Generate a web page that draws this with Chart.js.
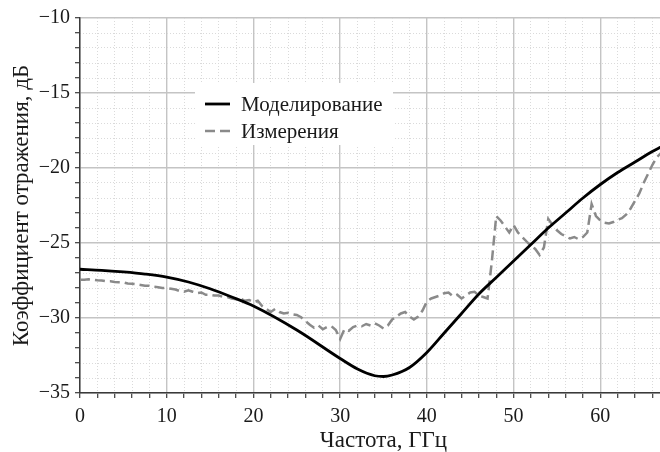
<!DOCTYPE html>
<html>
<head>
<meta charset="utf-8">
<script src="https://cdn.jsdelivr.net/npm/chart.js@4.4.1/dist/chart.umd.min.js"></script>
<style>
  html, body { margin: 0; padding: 0; background: #fff; overflow: hidden; width: 660px; height: 452px; }
  /* plot runs on to 70 GHz, the picture is cut at ~67 GHz */
  #wrap { position: relative; width: 694px; height: 452px; }
</style>
</head>
<body>
<div id="wrap"><canvas id="chart"></canvas></div>
<script>
/* ── data ── */
var simFreq = [0, 2.5, 5, 7.5, 10, 12.5, 15, 17.5, 20, 25, 30, 32, 34, 35, 36, 38, 40, 42, 44, 46, 48, 50, 52, 54, 56, 58, 60, 62, 64, 66, 67];
var simDb   = [-26.75, -26.82, -26.93, -27.07, -27.27, -27.6, -28.05, -28.6, -29.2, -30.8, -32.7, -33.4, -33.85, -33.9, -33.8, -33.3, -32.3,
               -31.0, -29.7, -28.4, -27.3, -26.2, -25.1, -24.0, -23.0, -22.0, -21.1, -20.3, -19.6, -18.9, -18.6];

var measFreq = [0, 0.5, 1, 1.5, 2, 2.5, 3, 3.5, 4, 4.5, 5, 5.5, 6, 6.5, 7, 7.5, 8, 8.5, 9, 9.5,
                10, 10.5, 11, 11.5, 12, 12.5, 13, 13.5, 14, 14.5, 15, 15.5, 16, 16.5, 17, 17.5, 18, 18.5, 19, 19.5,
                20, 20.5, 21, 21.5, 22, 22.5, 23, 23.5, 24, 24.5, 25, 25.5, 26, 26.5, 27, 27.5, 28, 28.5, 29, 29.5,
                30, 30.5, 31, 31.5, 32, 32.5, 33, 33.5, 34, 34.5, 35, 35.5, 36, 36.5, 37, 37.5, 38, 38.5, 39, 39.5,
                40, 40.5, 41, 41.5, 42, 42.5, 43, 43.5, 44, 44.5, 45, 45.5, 46, 46.5, 47, 47.5, 48, 48.5, 49, 49.5,
                50, 50.5, 51, 51.5, 52, 52.5, 53, 53.5, 54, 54.5, 55, 55.5, 56, 56.5, 57, 57.5, 58, 58.5, 59, 59.5,
                60, 60.5, 61, 61.5, 62, 62.5, 63, 63.5, 64, 64.5, 65, 65.5, 66, 66.5, 67];
var measDb = [-27.45, -27.45, -27.42, -27.45, -27.48, -27.5, -27.55, -27.55, -27.6, -27.62, -27.62, -27.7, -27.72, -27.75, -27.8, -27.85, -27.85, -27.9, -27.95, -28.0,
              -28.0, -28.05, -28.1, -28.2, -28.25, -28.15, -28.25, -28.35, -28.3, -28.45, -28.45, -28.5, -28.5, -28.6, -28.6, -28.7, -28.75, -28.7, -28.85, -28.8,
              -28.95, -28.85, -29.2, -29.4, -29.6, -29.4, -29.6, -29.7, -29.65, -29.75, -29.8, -29.95, -30.2, -30.45, -30.65, -30.5, -30.75, -30.6, -30.55, -30.8,
              -31.4, -30.75, -30.85, -30.6, -30.5, -30.55, -30.4, -30.5, -30.35, -30.5, -30.7, -30.5, -30.1, -29.9, -29.7, -29.6, -29.9, -30.1, -29.9, -29.5,
              -28.9, -28.7, -28.6, -28.5, -28.35, -28.3, -28.55, -28.45, -28.7, -28.5, -28.3, -28.25, -28.5, -28.6, -28.7, -26.2, -23.2, -23.5, -23.9, -24.3,
              -23.8, -24.3, -24.6, -24.9, -25.2, -25.4, -25.8, -25.3, -23.4, -23.8, -24.15, -24.4, -24.55, -24.7, -24.6, -24.75, -24.6, -24.3, -22.4, -23.2,
              -23.5, -23.65, -23.7, -23.6, -23.45, -23.35, -23.1, -22.7, -22.2, -21.7, -21.0, -20.4, -19.8, -19.3, -19.0];

var seriesNames = ["Моделирование", "Измерения"];
var xTitle = "Частота, ГГц";
var yTitle = "Коэффициент отражения, дБ";

var SERIF = "'Liberation Serif','Times New Roman',serif";
var majorGrid = "#c4c4c4";
var minorGrid = "#dadada";
var axisCol = "#3a3a3a";

function pts(xs, ys) {
  return xs.map(function(x, i) { return { x: x, y: ys[i] }; });
}
function fmtMinus(v) {
  return v < 0 ? "\u2212" + Math.abs(v) : String(v);
}

/* legend drawn inside the plot, on a white box */
var boxLegend = {
  id: "boxLegend",
  afterDraw: function(chart) {
    var a = chart.chartArea, c = chart.ctx;
    var x0 = a.left + 115, y0 = a.top + 65;
    c.save();
    c.fillStyle = "#fff";
    c.fillRect(x0, y0, 198, 62);
    var ds = chart.data.datasets;
    [0, 1].forEach(function(i) {
      var y = y0 + 21 + i * 27;
      c.beginPath();
      c.strokeStyle = ds[i].borderColor;
      c.lineWidth = ds[i].borderWidth;
      c.setLineDash(i === 1 ? [10, 5] : []);
      c.moveTo(x0 + 10, y);
      c.lineTo(x0 + 35, y);
      c.stroke();
      c.setLineDash([]);
      c.fillStyle = "#1a1a1a";
      c.font = "21px " + SERIF;
      c.textBaseline = "middle";
      c.fillText(ds[i].label, x0 + 46, y + 1);
    });
    c.restore();
  }
};

new Chart(document.getElementById("chart"), {
  type: "line",
  data: {
    datasets: [
      { label: seriesNames[0], data: pts(simFreq, simDb), borderColor: "#000", borderWidth: 2.8,
        pointRadius: 0, tension: 0.4, cubicInterpolationMode: "monotone", xAxisID: "x", yAxisID: "y" },
      { label: seriesNames[1], data: pts(measFreq, measDb), borderColor: "#8a8a8a", borderWidth: 2.5,
        borderDash: [10, 5], pointRadius: 0, tension: 0, xAxisID: "x", yAxisID: "y" }
    ]
  },
  options: {
    responsive: true, maintainAspectRatio: false, animation: false,
    layout: { padding: { top: 18, right: 0, bottom: 0, left: 0 } },
    plugins: { legend: { display: false }, tooltip: { enabled: false } },
    scales: {
      x: {
        type: "linear", position: "bottom", min: 0, max: 70,
        afterFit: function(s) { s.height = 59; },
        ticks: {
          stepSize: 2, autoSkip: false, maxRotation: 0, includeBounds: false, padding: 7,
          color: "#1a1a1a", font: { family: SERIF, size: 20 },
          callback: function(v) { return (v % 10 === 0 && v < 70) ? fmtMinus(v) : ""; }
        },
        grid: {
          color: function(c) { return c.tick && c.tick.value % 10 === 0 ? majorGrid : "rgba(0,0,0,0)"; },
          lineWidth: 1.4, tickColor: axisCol, tickLength: 5, tickWidth: 1.2
        },
        border: { color: axisCol, width: 1.5 },
        title: { display: true, text: xTitle, color: "#1a1a1a", font: { family: SERIF, size: 23, lineHeight: 1 }, padding: { top: 0, bottom: 0 } }
      },
      y: {
        type: "linear", position: "left", min: -35, max: -10,
        afterFit: function(s) { s.width = 80; },
        ticks: {
          stepSize: 1, autoSkip: false, padding: 5,
          color: "#1a1a1a", font: { family: SERIF, size: 20 },
          callback: function(v) { return v % 5 === 0 ? fmtMinus(v) : ""; }
        },
        grid: {
          color: function(c) { return c.tick && c.tick.value % 5 === 0 ? majorGrid : "rgba(0,0,0,0)"; },
          lineWidth: 1.4, tickColor: axisCol, tickLength: 5, tickWidth: 1.2
        },
        border: { color: axisCol, width: 1.5 },
        title: { display: true, text: yTitle, color: "#1a1a1a", font: { family: SERIF, size: 23 }, padding: { top: 8, bottom: 0 } }
      },
      /* dotted minor grid, axes of zero size */
      xm: {
        type: "linear", position: "top", min: 0, max: 70,
        afterFit: function(s) { s.height = 0; },
        ticks: { display: false, stepSize: 2, autoSkip: false },
        grid: {
          drawTicks: false, lineWidth: 1,
          color: function(c) { return c.tick && c.tick.value % 10 === 0 ? "rgba(0,0,0,0)" : minorGrid; }
        },
        border: { display: false, dash: [1, 2] }
      },
      ym: {
        type: "linear", position: "right", min: -35, max: -10,
        afterFit: function(s) { s.width = 0; },
        ticks: { display: false, stepSize: 1, autoSkip: false },
        grid: {
          drawTicks: false, lineWidth: 1,
          color: function(c) { return c.tick && c.tick.value % 5 === 0 ? "rgba(0,0,0,0)" : minorGrid; }
        },
        border: { display: false, dash: [1, 2] }
      }
    }
  },
  plugins: [boxLegend]
});
</script>
</body>
</html>
